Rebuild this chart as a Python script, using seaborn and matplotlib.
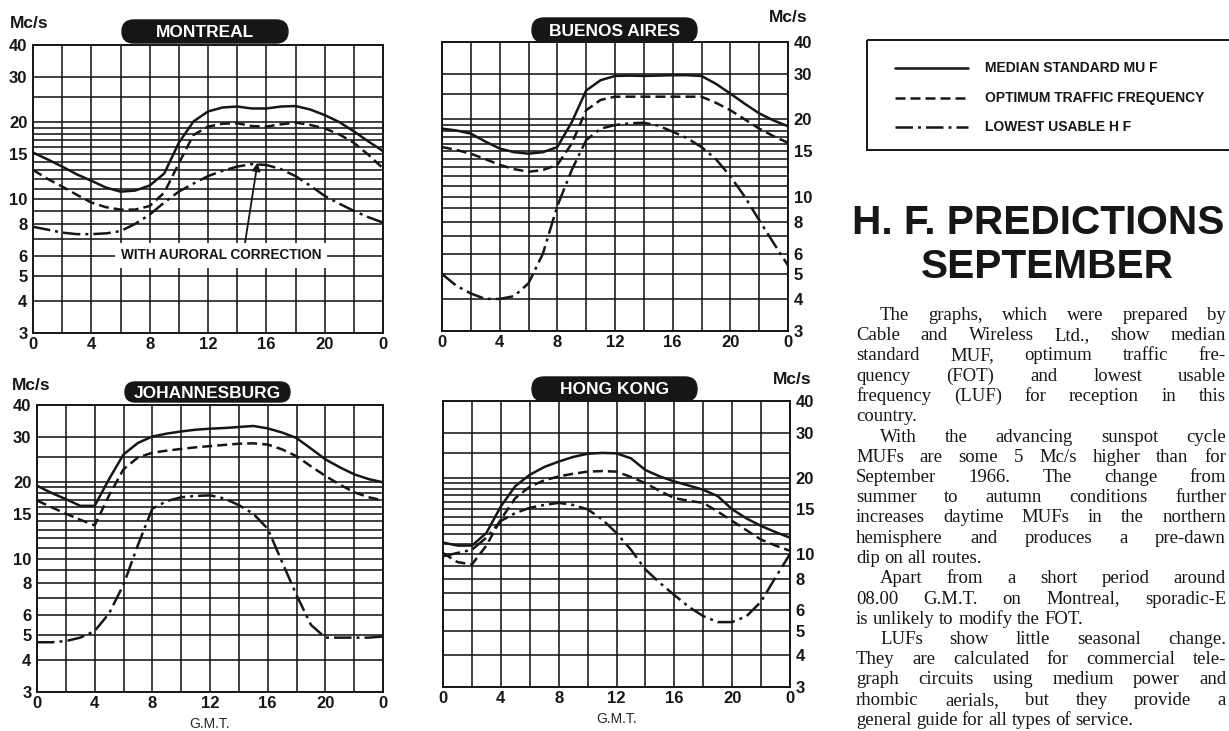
import matplotlib
matplotlib.use("Agg")
import matplotlib.pyplot as plt
from matplotlib.patches import FancyBboxPatch, Rectangle
from matplotlib.lines import Line2D
from matplotlib.ticker import FixedLocator, NullFormatter
import pandas as pd
import seaborn as sns

# G.M.T. hour, 0..24
HOURS = list(range(25))

MONTREAL_MUF = [15.2, 14.3, 13.4, 12.5, 11.8, 11.1, 10.7, 10.8, 11.3, 12.6, 16.6, 20.1, 22.0,
                22.8, 23.0, 22.6, 22.6, 23.0, 23.1, 22.4, 21.3, 20.0, 18.4, 16.8, 15.4]
MONTREAL_FOT = [13.0, 12.0, 11.2, 10.4, 9.7, 9.3, 9.1, 9.1, 9.4, 10.6, 13.8, 17.8, 19.2,
                19.7, 19.8, 19.3, 19.2, 19.6, 19.9, 19.5, 18.9, 17.9, 16.6, 14.9, 13.2]
MONTREAL_LUF = [7.8, 7.6, 7.4, 7.3, 7.3, 7.35, 7.5, 8.0, 8.7, 9.7, 10.7, 11.5, 12.3,
                12.9, 13.4, 13.7, 13.6, 13.1, 12.3, 11.3, 10.3, 9.6, 9.0, 8.5, 8.1]

BUENOS_AIRES_MUF = [18.4, 18.1, 17.6, 16.4, 15.4, 14.9, 14.7, 14.9, 15.6, 19.5, 25.9, 28.4, 29.5,
                    29.6, 29.5, 29.6, 29.7, 29.7, 29.5, 27.5, 25.2, 23.0, 21.1, 19.8, 18.8]
BUENOS_AIRES_FOT = [15.6, 15.2, 14.7, 14.0, 13.3, 12.8, 12.5, 12.7, 13.3, 16.1, 21.7, 23.8, 24.5,
                    24.5, 24.5, 24.5, 24.5, 24.5, 24.5, 23.2, 21.7, 20.0, 18.4, 17.2, 16.2]
BUENOS_AIRES_LUF = [5.0, 4.5, 4.2, 4.0, 4.0, 4.1, 4.6, 6.0, 9.2, 12.7, 16.6, 18.4, 19.0,
                    19.3, 19.4, 18.9, 17.9, 16.9, 15.6, 14.0, 12.0, 10.0, 8.1, 6.6, 5.4]

JOHANNESBURG_MUF = [19.3, 18.1, 17.1, 16.1, 16.1, 20.5, 25.6, 28.4, 30.1, 30.9, 31.5, 32.0, 32.3,
                    32.5, 32.8, 33.1, 32.4, 31.2, 29.7, 27.0, 24.5, 22.8, 21.4, 20.5, 19.9]
JOHANNESBURG_FOT = [16.9, 15.9, 15.0, 14.2, 13.5, 17.7, 22.4, 24.9, 26.0, 26.5, 26.9, 27.3, 27.6,
                    27.9, 28.2, 28.3, 28.0, 26.8, 25.2, 23.0, 21.1, 19.5, 18.2, 17.4, 16.9]
JOHANNESBURG_LUF = [4.7, 4.7, 4.75, 4.9, 5.2, 6.1, 7.9, 11.3, 15.7, 16.8, 17.4, 17.6, 17.7,
                    17.2, 16.2, 15.0, 13.1, 9.7, 7.2, 5.5, 4.9, 4.9, 4.9, 4.9, 4.95]

HONG_KONG_MUF = [11.1, 10.8, 10.8, 12.1, 15.4, 18.5, 20.5, 22.0, 23.1, 24.1, 24.8, 25.0, 24.9,
                 23.8, 21.4, 20.2, 19.3, 18.6, 17.9, 16.9, 15.0, 13.8, 12.9, 12.2, 11.6]
HONG_KONG_FOT = [10.1, 9.3, 9.1, 10.8, 13.7, 16.6, 18.4, 19.5, 20.2, 20.7, 21.1, 21.2, 21.1,
                 20.1, 19.0, 17.7, 16.6, 16.2, 15.9, 14.7, 13.5, 12.4, 11.4, 10.8, 10.3]
HONG_KONG_LUF = [9.8, 10.1, 10.4, 11.6, 13.5, 14.5, 15.2, 15.6, 15.9, 15.6, 15.0, 13.7, 12.1,
                 10.4, 8.7, 7.7, 6.9, 6.2, 5.7, 5.4, 5.4, 5.7, 6.5, 8.1, 10.0]

Y_MAJOR = [3, 4, 5, 6, 8, 10, 15, 20, 30, 40]
Y_MINOR = [7, 9, 11, 12, 13, 14, 16, 17, 18, 19, 25]
X_MAJOR = [0, 4, 8, 12, 16, 20, 24]
X_LABELS = ["0", "4", "8", "12", "16", "20", "0"]

LEGEND_LABELS = ["MEDIAN STANDARD MU F", "OPTIMUM TRAFFIC FREQUENCY", "LOWEST USABLE H F"]

# (line, indented, justified)
BODY_LINES = [
    ("The graphs, which were prepared by", True, True),
    ("Cable and Wireless Ltd., show median", False, True),
    ("standard MUF, optimum traffic fre-", False, True),
    ("quency (FOT) and lowest usable", False, True),
    ("frequency (LUF) for reception in this", False, True),
    ("country.", False, False),
    ("With the advancing sunspot cycle", True, True),
    ("MUFs are some 5 Mc/s higher than for", False, True),
    ("September 1966.  The change from", False, True),
    ("summer to autumn conditions further", False, True),
    ("increases daytime MUFs in the northern", False, True),
    ("hemisphere and produces a pre-dawn", False, True),
    ("dip on all routes.", False, False),
    ("Apart from a short period around", True, True),
    ("08.00 G.M.T. on Montreal, sporadic-E", False, True),
    ("is unlikely to modify the FOT.", False, False),
    ("LUFs show little seasonal change.", True, True),
    ("They are calculated for commercial tele-", False, True),
    ("graph circuits using medium power and", False, True),
    ("rhombic aerials, but they provide a", False, True),
    ("general guide for all types of service.", False, False),
]

W, H = 1229, 731
INK = "#161616"

sns.set_theme(style="white")
plt.rcParams["font.family"] = ["Liberation Sans", "DejaVu Sans"]
plt.rcParams["font.weight"] = "bold"

fig = plt.figure(figsize=(W / 100, H / 100), dpi=100)


def px_axes(left, top, right, bottom):
    return fig.add_axes([left / W, 1 - bottom / H, (right - left) / W, (bottom - top) / H])


def draw_panel(ax, muf, fot, luf, right_side, gmt):
    df = pd.DataFrame({
        "hour": HOURS * 3,
        "mcs": muf + fot + luf,
        "curve": ["MUF"] * 25 + ["FOT"] * 25 + ["LUF"] * 25,
    })
    sns.lineplot(data=df, x="hour", y="mcs", style="curve", style_order=["MUF", "FOT", "LUF"],
                 dashes={"MUF": "", "FOT": (4, 2), "LUF": (7, 2, 1.2, 2)},
                 color=INK, linewidth=1.8, legend=False, estimator=None, sort=False, ax=ax)
    ax.set_yscale("log")
    ax.set_ylim(3, 40)
    ax.set_xlim(0, 24)
    ax.set_yticks(Y_MAJOR)
    ax.set_yticklabels([str(v) for v in Y_MAJOR])
    ax.yaxis.set_minor_locator(FixedLocator(Y_MINOR))
    ax.yaxis.set_minor_formatter(NullFormatter())
    ax.set_xticks(X_MAJOR)
    ax.set_xticklabels(X_LABELS)
    ax.xaxis.set_minor_locator(FixedLocator([2, 6, 10, 14, 18, 22]))
    ax.set_axisbelow(True)
    ax.grid(which="both", color=INK, linewidth=1.15)
    ax.tick_params(which="both", length=0, labelsize=12, colors=INK)
    ax.tick_params(axis="y", pad=4)
    ax.tick_params(axis="x", pad=3)
    for s in ax.spines.values():
        s.set_color(INK)
        s.set_linewidth(1.4)
    if right_side:
        ax.yaxis.tick_right()
    ax.set_ylabel("")
    ax.set_xlabel("G.M.T." if gmt else "", fontsize=10, labelpad=4)


ax_mtl = px_axes(33, 45, 383, 333)
draw_panel(ax_mtl, MONTREAL_MUF, MONTREAL_FOT, MONTREAL_LUF, False, False)
ax_mtl.annotate("WITH AURORAL CORRECTION", xy=(15.4, 13.9), xytext=(12.9, 6.04),
                ha="center", va="center", fontsize=9.8, color=INK,
                bbox=dict(fc="white", ec="none", pad=4),
                arrowprops=dict(arrowstyle="-|>", color=INK, lw=1.3, relpos=(0.615, 1.0),
                                shrinkA=0, shrinkB=0, mutation_scale=12))

ax_ba = px_axes(442, 42, 788, 331)
draw_panel(ax_ba, BUENOS_AIRES_MUF, BUENOS_AIRES_FOT, BUENOS_AIRES_LUF, True, False)

ax_jnb = px_axes(37, 405, 383, 692)
draw_panel(ax_jnb, JOHANNESBURG_MUF, JOHANNESBURG_FOT, JOHANNESBURG_LUF, False, True)

ax_hk = px_axes(443, 401, 790, 687)
draw_panel(ax_hk, HONG_KONG_MUF, HONG_KONG_FOT, HONG_KONG_LUF, True, True)

# overlay in pixel coordinates for the page furniture
ov = fig.add_axes([0, 0, 1, 1])
ov.set_xlim(0, W)
ov.set_ylim(H, 0)
ov.axis("off")
ov.patch.set_visible(False)

for name, x0, x1, y0, y1 in [("MONTREAL", 122, 288, 20, 43), ("BUENOS AIRES", 532, 697, 18, 42),
                             ("JOHANNESBURG", 125, 290, 382, 402), ("HONG KONG", 532, 697, 377, 401)]:
    h = y1 - y0
    ov.add_patch(FancyBboxPatch((x0, y0), x1 - x0, h, boxstyle=f"round,pad=0,rounding_size={h / 2}",
                                fc=INK, ec=INK))
    ov.text((x0 + x1) / 2, (y0 + y1) / 2 + 1, name, color="white", fontsize=12.5,
            ha="center", va="center")

for x, y, ha in [(10, 23, "left"), (12, 385, "left"), (808, 17, "right"), (812, 380, "right")]:
    ov.text(x, y, "Mc/s", fontsize=12.5, color=INK, ha=ha, va="center")

# legend box, open at the page edge
ov.add_patch(Rectangle((867, 40), 450, 110, fill=False, ec=INK, lw=1.4))
for label, ls, y in zip(LEGEND_LABELS, ["-", (0, (4, 2)), (0, (7, 2, 1.2, 2))], [68, 98, 127]):
    ov.add_line(Line2D([895, 968], [y, y], color=INK, lw=1.8, linestyle=ls))
    ov.text(985, y, label, fontsize=10, color=INK, ha="left", va="center")

renderer = fig.canvas.get_renderer()

head1 = ov.text(852, 223, "H. F. PREDICTIONS", weight="bold", fontsize=30, color=INK,
                ha="left", va="center")
hw = head1.get_window_extent(renderer).width
head_size = 30 * min(1.0, 372 / hw)
head1.set_fontsize(head_size)
ov.text(1047, 267, "SEPTEMBER", weight="bold", fontsize=head_size, color=INK,
        ha="center", va="center")

# justified body column, sized to fit inside the page
col_left, col_right = 856, 1226
body_size = 13.5
widest = 0
for line, indent, _ in BODY_LINES:
    t = ov.text(0, 0, line, family="Liberation Serif", weight="normal", fontsize=body_size)
    widest = max(widest, t.get_window_extent(renderer).width + (24 if indent else 0))
    t.remove()
body_size *= min(1.0, (col_right - col_left - 4) / widest)

for i, (line, indent, justify) in enumerate(BODY_LINES):
    y = 320 + 20.25 * i
    x0 = col_left + (24 if indent else 0)
    words = line.split()
    texts = [ov.text(0, y, w, family="Liberation Serif", weight="normal", fontsize=body_size,
                     color=INK, ha="left", va="baseline") for w in words]
    widths = [t.get_window_extent(renderer).width for t in texts]
    gap = (col_right - x0 - sum(widths)) / (len(words) - 1) if justify and len(words) > 1 else 4.5
    x = x0
    for t, w in zip(texts, widths):
        t.set_x(x)
        x += w + gap

fig.savefig("out.png", dpi=100, facecolor="white")
